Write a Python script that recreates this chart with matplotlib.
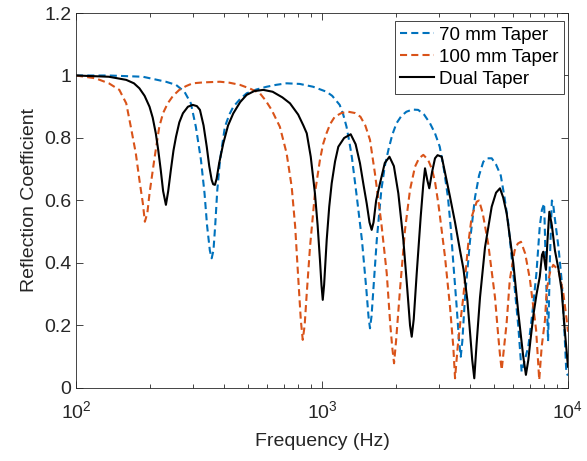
import matplotlib
matplotlib.use('Agg')
import matplotlib.pyplot as plt
from matplotlib.ticker import FuncFormatter, LogLocator

# ---------------------------------------------------------------------------
# Data (frequency in Hz, reflection coefficient)
# ---------------------------------------------------------------------------
f_70 = [100, 136, 187, 232, 255, 276, 293, 307, 322, 333, 341, 350, 356, 362,
        368, 375, 385, 403, 420, 436, 465, 494, 540, 596, 650, 718, 812, 920,
        1043, 1100, 1180, 1220, 1258, 1290, 1322, 1385, 1453, 1515, 1545, 1567,
        1590, 1617, 1670, 1743, 1800, 1862, 1930, 2008, 2100, 2203, 2330, 2460,
        2600, 2748, 2880, 3011, 3130, 3251, 3340, 3418, 3520, 3600, 3665, 3720,
        3813, 3996, 4188, 4350, 4527, 4700, 4898, 5100, 5330, 5520, 5718, 5993,
        6283, 6400, 6480, 6600, 6897, 7163, 7442, 7677, 7834, 8000, 8150, 8300,
        8450, 8600, 8700, 8850, 9150, 9420, 9650, 9850, 10000]
r_70 = [1.0, 1.0, 0.996, 0.98, 0.97, 0.948, 0.911, 0.836, 0.73, 0.623, 0.52,
        0.44, 0.415, 0.44, 0.52, 0.63, 0.73, 0.836, 0.875, 0.9, 0.925, 0.943,
        0.955, 0.964, 0.97, 0.975, 0.973, 0.964, 0.948, 0.935, 0.906, 0.875,
        0.836, 0.79, 0.74, 0.612, 0.474, 0.314, 0.23, 0.191, 0.23, 0.314,
        0.474, 0.634, 0.71, 0.762, 0.81, 0.847, 0.87, 0.884, 0.891, 0.89,
        0.875, 0.847, 0.815, 0.772, 0.70, 0.61, 0.51, 0.4, 0.27, 0.16, 0.10,
        0.15, 0.29, 0.47, 0.61, 0.68, 0.724, 0.735, 0.735, 0.715, 0.68, 0.61,
        0.527, 0.367, 0.196, 0.11, 0.052, 0.075, 0.132, 0.239, 0.367, 0.516,
        0.57, 0.59, 0.35, 0.15, 0.42, 0.6, 0.59, 0.54, 0.45, 0.346, 0.2,
        0.048, 0.04]

f_100 = [100, 120, 136, 150, 160, 167, 175, 181, 187, 190.5, 195, 199, 208,
         218, 226, 236, 248, 263, 280, 298, 330, 385, 420, 464, 510, 559, 590,
         624, 674, 718, 753, 778, 800, 820, 835, 850, 867, 894, 936, 981, 1010,
         1043, 1080, 1127, 1200, 1279, 1360, 1433, 1500, 1567, 1641, 1743, 1833,
         1893, 1930, 1963, 2000, 2075, 2175, 2279, 2388, 2480, 2582, 2700, 2800,
         2880, 2971, 3018, 3162, 3314, 3418, 3474, 3560, 3650, 3753, 3933, 4061,
         4255, 4350, 4500, 4742, 5050, 5209, 5300, 5377, 5480, 5630, 5800, 6070,
         6250, 6440, 6700, 7007, 7200, 7420, 7640, 7818, 8065, 8192, 8450, 8713,
         9140, 9571, 9879, 10000]
r_100 = [1.0, 0.991, 0.975, 0.954, 0.911, 0.836, 0.751, 0.666, 0.59, 0.532,
         0.56, 0.623, 0.73, 0.836, 0.88, 0.911, 0.935, 0.954, 0.966, 0.975,
         0.978, 0.98, 0.977, 0.97, 0.958, 0.943, 0.92, 0.89, 0.836, 0.751,
         0.644, 0.516, 0.356, 0.218, 0.154, 0.2, 0.303, 0.452, 0.623, 0.73,
         0.78, 0.815, 0.845, 0.868, 0.88, 0.884, 0.88, 0.868, 0.84, 0.794,
         0.687, 0.527, 0.367, 0.207, 0.13, 0.079, 0.15, 0.314, 0.506, 0.634,
         0.708, 0.735, 0.746, 0.73, 0.70, 0.66, 0.59, 0.548, 0.42, 0.26, 0.132,
         0.031, 0.13, 0.21, 0.29, 0.463, 0.548, 0.596, 0.6, 0.56, 0.46, 0.29,
         0.164, 0.1, 0.058, 0.12, 0.207, 0.346, 0.44, 0.462, 0.468, 0.43,
         0.346, 0.27, 0.186, 0.026, 0.132, 0.218, 0.314, 0.37, 0.394, 0.378,
         0.304, 0.218, 0.18]

f_dual = [100, 136, 160, 172, 181, 190, 199, 205, 211, 216, 221, 226, 232, 237,
          243, 249, 255, 263, 272, 285, 298, 310, 319, 330, 340, 348, 356, 361,
          367, 373, 382, 397, 415, 436, 465, 494, 530, 577, 630, 690, 741, 800,
          840, 867, 900, 936, 960, 981, 995, 1007, 1020, 1045, 1070, 1095, 1130,
          1165, 1230, 1308, 1370, 1427, 1475, 1520, 1560, 1592, 1620, 1660, 1721,
          1800, 1880, 1960, 2043, 2141, 2223, 2280, 2316, 2360, 2427, 2519, 2580,
          2623, 2680, 2730, 2800, 2880, 2950, 3067, 3200, 3314, 3474, 3640, 3760,
          3900, 3996, 4080, 4160, 4250, 4389, 4599, 4896, 5100, 5291, 5450, 5633,
          5993, 6283, 6580, 6745, 6900, 7040, 7250, 7450, 7680, 7840, 7937, 8020,
          8140, 8250, 8400, 8600, 8850, 9150, 9420, 9700, 10000]
r_dual = [1.0, 0.996, 0.986, 0.975, 0.959, 0.935, 0.9, 0.865, 0.815, 0.76,
          0.698, 0.63, 0.586, 0.63, 0.698, 0.76, 0.804, 0.85, 0.879, 0.9, 0.906,
          0.902, 0.89, 0.84, 0.772, 0.71, 0.666, 0.652, 0.65, 0.67, 0.72, 0.783,
          0.84, 0.879, 0.915, 0.938, 0.95, 0.954, 0.948, 0.93, 0.911, 0.875,
          0.84, 0.815, 0.74, 0.623, 0.52, 0.41, 0.33, 0.282, 0.33, 0.474, 0.58,
          0.655, 0.725, 0.772, 0.8, 0.812, 0.78, 0.719, 0.65, 0.59, 0.53, 0.506,
          0.53, 0.6, 0.655, 0.72, 0.74, 0.71, 0.623, 0.474, 0.314, 0.2, 0.164,
          0.22, 0.367, 0.548, 0.65, 0.703, 0.665, 0.639, 0.69, 0.735, 0.745,
          0.74, 0.67, 0.612, 0.53, 0.44, 0.38, 0.28, 0.18, 0.09, 0.031, 0.14,
          0.29, 0.45, 0.58, 0.625, 0.639, 0.61, 0.559, 0.4, 0.24, 0.1, 0.042,
          0.09, 0.154, 0.239, 0.3, 0.356, 0.426, 0.436, 0.41, 0.378, 0.47, 0.564,
          0.52, 0.44, 0.38, 0.314, 0.186, 0.068]

series_labels = ['70 mm Taper', '100 mm Taper', 'Dual Taper']
y_ticks = [0, 0.2, 0.4, 0.6, 0.8, 1.0, 1.2]

# ---------------------------------------------------------------------------
# Styling (MATLAB-like)
# ---------------------------------------------------------------------------
plt.rcParams['font.family'] = ['Liberation Sans', 'DejaVu Sans']
plt.rcParams['mathtext.default'] = 'regular'
axis_grey = '#262626'

fig = plt.figure(figsize=(5.87, 4.61), dpi=100)
ax = fig.add_axes([0.1295, 0.1584, 0.8381, 0.8134])

dash = (0, (3.4, 2.0))
ax.plot(f_70, r_70, color='#0072BD', linestyle=dash, linewidth=1.5, label=series_labels[0])
ax.plot(f_100, r_100, color='#D95319', linestyle=dash, linewidth=1.5, label=series_labels[1])
ax.plot(f_dual, r_dual, color='black', linewidth=1.5, label=series_labels[2])

ax.set_xscale('log')
ax.set_xlim(100, 10000)
ax.set_ylim(0, 1.2)
ax.set_yticks(y_ticks)
ax.yaxis.set_major_formatter(FuncFormatter(lambda v, p: '%g' % v))
ax.xaxis.set_minor_locator(LogLocator(base=10, subs=range(2, 10)))

ax.set_xlabel('Frequency (Hz)', fontsize=14, color=axis_grey, labelpad=8)
ax.set_ylabel('Reflection Coefficient', fontsize=14, color=axis_grey)

ax.tick_params(which='both', direction='in', top=True, right=True,
               colors=axis_grey, labelsize=14, width=0.6)
ax.tick_params(axis='x', which='major', pad=9)
ax.tick_params(which='major', length=5)
ax.tick_params(which='minor', length=3)
for s in ax.spines.values():
    s.set_color(axis_grey)
    s.set_linewidth(0.6)

leg = ax.legend(loc='upper right', bbox_to_anchor=(0.992, 0.979),
                fontsize=13.5, fancybox=False, framealpha=1,
                edgecolor=axis_grey, borderaxespad=0, handlelength=1.8,
                labelspacing=0.27, borderpad=0.3, handletextpad=0.25)
leg.get_frame().set_linewidth(0.6)

fig.savefig('out.png', dpi=100)
